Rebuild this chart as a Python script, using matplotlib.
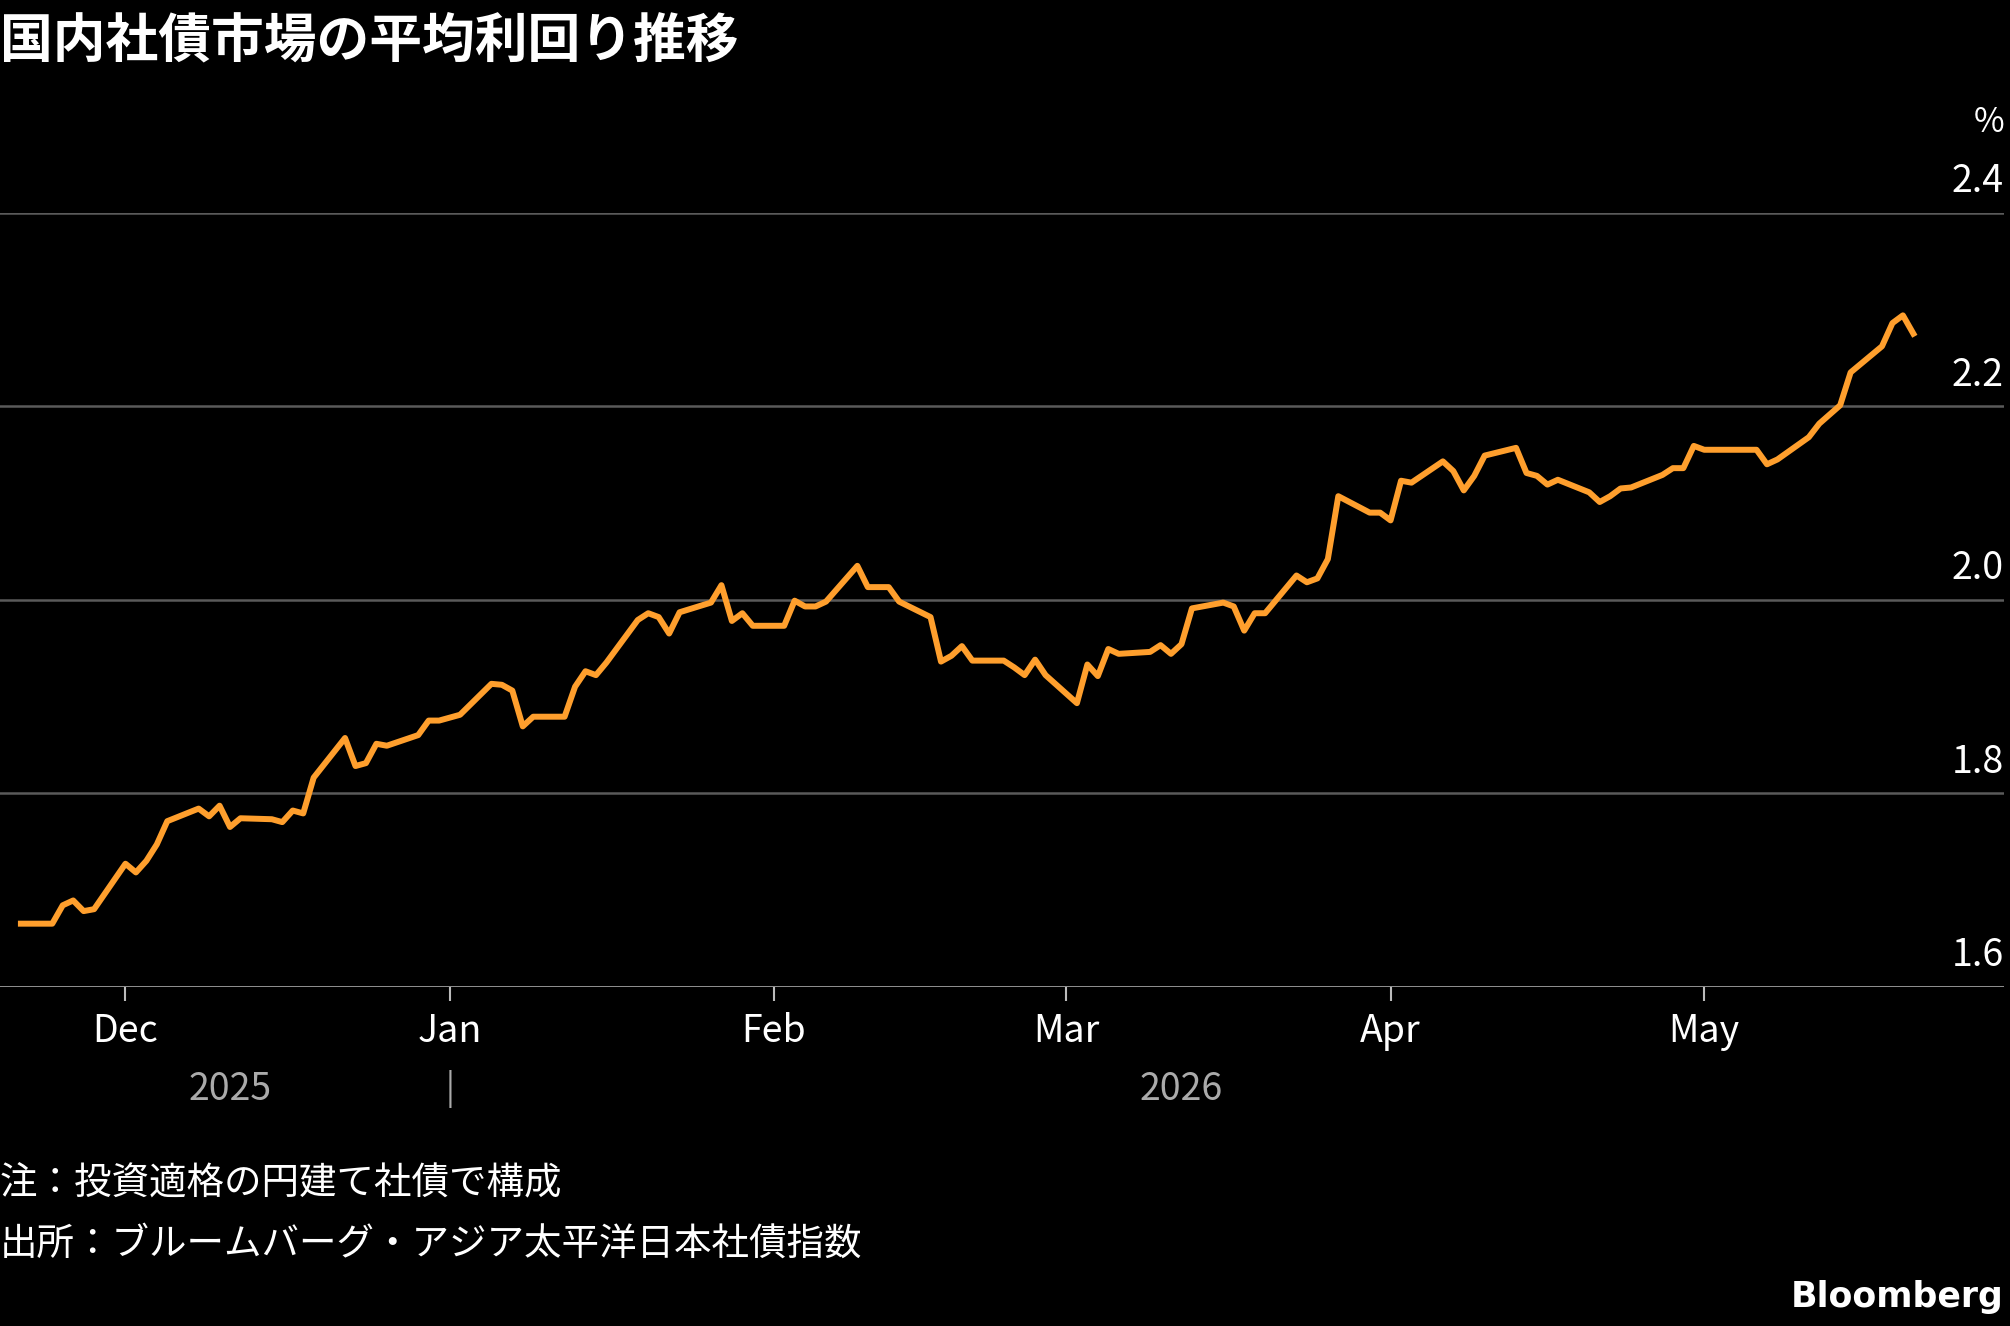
import matplotlib
matplotlib.use("Agg")
import matplotlib.pyplot as plt
import datetime as dt

plt.rcParams['font.family'] = ['Noto Sans CJK JP', 'DejaVu Sans']

dates = ["2025-11-21","2025-11-24","2025-11-25","2025-11-26","2025-11-27","2025-11-28",
"2025-12-01","2025-12-02","2025-12-03","2025-12-04","2025-12-05","2025-12-08","2025-12-09","2025-12-10","2025-12-11","2025-12-12",
"2025-12-15","2025-12-16","2025-12-17","2025-12-18","2025-12-19","2025-12-22","2025-12-23","2025-12-24","2025-12-25","2025-12-26",
"2025-12-29","2025-12-30","2025-12-31","2026-01-02","2026-01-05","2026-01-06","2026-01-07","2026-01-08","2026-01-09",
"2026-01-12","2026-01-13","2026-01-14","2026-01-15","2026-01-16","2026-01-19","2026-01-20","2026-01-21","2026-01-22","2026-01-23",
"2026-01-26","2026-01-27","2026-01-28","2026-01-29","2026-01-30","2026-02-02","2026-02-03","2026-02-04","2026-02-05","2026-02-06",
"2026-02-09","2026-02-10","2026-02-12","2026-02-13","2026-02-16","2026-02-17","2026-02-18","2026-02-19","2026-02-20",
"2026-02-23","2026-02-24","2026-02-25","2026-02-26","2026-02-27","2026-03-02","2026-03-03","2026-03-04","2026-03-05","2026-03-06",
"2026-03-09","2026-03-10","2026-03-11","2026-03-12","2026-03-13","2026-03-16","2026-03-17","2026-03-18","2026-03-19","2026-03-20",
"2026-03-23","2026-03-24","2026-03-25","2026-03-26","2026-03-27","2026-03-30","2026-03-31","2026-04-01","2026-04-02","2026-04-03",
"2026-04-06","2026-04-07","2026-04-08","2026-04-09","2026-04-10","2026-04-13","2026-04-14","2026-04-15","2026-04-16","2026-04-17",
"2026-04-20","2026-04-21","2026-04-22","2026-04-23","2026-04-24","2026-04-27","2026-04-28","2026-04-29","2026-04-30","2026-05-01",
"2026-05-06","2026-05-07","2026-05-08","2026-05-11","2026-05-12","2026-05-14","2026-05-15","2026-05-18","2026-05-19","2026-05-20","2026-05-21"]
values = [1.665,1.665,1.684,1.689,1.678,1.680,
1.727,1.718,1.730,1.747,1.771,1.784,1.776,1.787,1.765,1.774,
1.773,1.770,1.782,1.779,1.816,1.857,1.828,1.831,1.851,1.849,
1.860,1.875,1.875,1.881,1.913,1.912,1.906,1.869,1.879,
1.879,1.910,1.926,1.922,1.935,1.979,1.986,1.982,1.965,1.987,
1.997,2.015,1.978,1.986,1.973,1.973,1.999,1.993,1.993,1.998,
2.035,2.013,2.013,1.998,1.982,1.936,1.942,1.952,1.937,
1.937,1.930,1.922,1.938,1.922,1.893,1.933,1.921,1.949,1.944,
1.946,1.953,1.944,1.954,1.991,1.997,1.993,1.968,1.986,1.986,
2.025,2.018,2.022,2.042,2.107,2.090,2.090,2.082,2.123,2.121,
2.143,2.133,2.113,2.128,2.149,2.157,2.131,2.128,2.119,2.124,
2.111,2.101,2.107,2.115,2.116,2.129,2.136,2.136,2.159,2.155,
2.155,2.140,2.145,2.168,2.182,2.201,2.235,2.262,2.286,2.294,2.275]
yticks = [1.6, 1.8, 2.0, 2.2, 2.4]
ytick_labels = ["1.6", "1.8", "2.0", "2.2", "2.4"]
month_ticks = ["2025-12-01","2026-01-01","2026-02-01","2026-03-01","2026-04-01","2026-05-01"]
month_labels = ["Dec","Jan","Feb","Mar","Apr","May"]

d = [dt.datetime.fromisoformat(s) for s in dates]
mt = [dt.datetime.fromisoformat(s) for s in month_ticks]

fig = plt.figure(figsize=(20.10, 13.26), dpi=100, facecolor='black')
ax = fig.add_axes([0.0, 0.256, 0.997, 0.5835], facecolor='black')
ax.plot(d, values, color='#FF9F2D', lw=4.3, solid_joinstyle='round', zorder=3)
ax.set_ylim(1.6, 2.4)
ax.set_xlim(dt.datetime(2025, 11, 19, 0), dt.datetime(2026, 5, 29, 16))
for s in ax.spines.values():
    s.set_visible(False)
for y in yticks:
    ax.axhline(y, color='#BBBBBB' if y == 1.6 else '#5A5A5A', lw=1.8, zorder=1)
ax.set_yticks([])
ax.set_xticks(mt)
ax.set_xticklabels(month_labels, color='white', fontsize=27)
ax.tick_params(axis='x', colors='#BBBBBB', length=10, width=1.5, pad=8, labelcolor='white')
for y, lab in zip(yticks, ytick_labels):
    ax.text(1.0, y + 0.012, lab, transform=ax.get_yaxis_transform(), ha='right', va='bottom',
            color='white', fontsize=27)
ax.text(1.0, 2.4 + 0.075, "%", transform=ax.get_yaxis_transform(), ha='right', va='bottom',
        color='white', fontsize=24)
ax.annotate("2025", xy=(dt.datetime(2025, 12, 11), 0), xycoords=('data', 'axes fraction'),
            xytext=(0, -74), textcoords='offset points', ha='center', va='center', color='#AAAAAA', fontsize=27)
ax.annotate("|", xy=(mt[1], 0), xycoords=('data', 'axes fraction'),
            xytext=(0, -74), textcoords='offset points', ha='center', va='center', color='#AAAAAA', fontsize=24)
ax.annotate("2026", xy=(dt.datetime(2026, 3, 12), 0), xycoords=('data', 'axes fraction'),
            xytext=(0, -74), textcoords='offset points', ha='center', va='center', color='#AAAAAA', fontsize=27)

fig.text(0.0, 0.968, "国内社債市場の平均利回り推移", color='white', fontsize=38, fontweight='bold', va='center')
fig.text(0.0, 0.108, "注：投資適格の円建て社債で構成", color='white', fontsize=27, va='center')
fig.text(0.0, 0.062, "出所：ブルームバーグ・アジア太平洋日本社債指数", color='white', fontsize=27, va='center')
fig.text(0.997, 0.022, "Bloomberg", color='white', fontsize=25, fontweight='bold', ha='right', va='center',
         family=['DejaVu Sans'])
fig.savefig("out.png", dpi=100, facecolor='black')
